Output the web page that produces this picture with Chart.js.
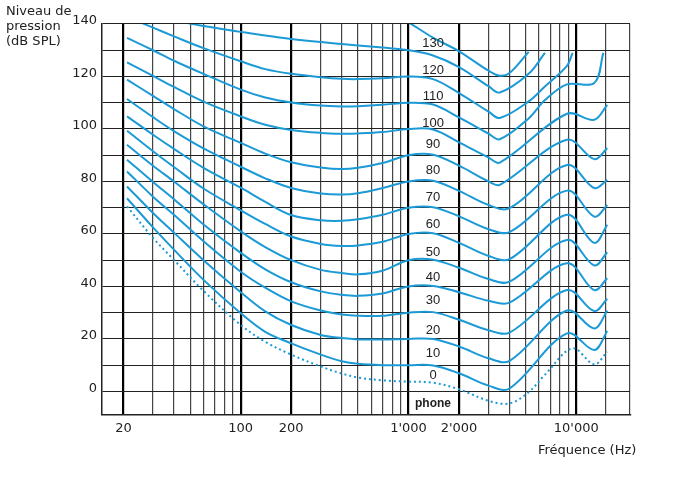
<!DOCTYPE html>
<html>
<head>
<meta charset="utf-8">
<script src="https://cdn.jsdelivr.net/npm/chart.js@4/dist/chart.umd.min.js"></script>
<style>
  html, body { margin: 0; padding: 0; background: #fff; }
</style>
</head>
<body>
<canvas id="chart" width="690" height="487"></canvas>
<script>
// fréquences communes (Hz)
const freqs = [21, 30, 40, 60, 100, 140, 200, 300, 400, 500, 700, 1000, 1400, 2000, 3000, 3500, 4000, 5200, 6500, 8800, 9500, 12800, 14500, 15300];

// niveaux (dB SPL), null = pas de point
const phon0   = [70.5, 58.5, 50.1, 38.3, 25.3, 18.9, 14, 9.5, 6.8, 5.3, 4.2, 3.7, 3.3, 0.8, -3.6, null, -4.6, -0.3, 6.3, null, 16.4, 10.3, null, 15.1];
const phon10  = [73.6, 62.5, 54, 42.5, 29.8, 22.7, 18.3, 14, 11.5, 10.5, 10, 10, 9.9, 6.9, 2.2, null, 1.1, null, null, 22.1, null, 15.8, null, 23];
const phon20  = [78.1, 68, 60.5, 50, 37.8, 30.5, 25.3, 21.5, 20.3, 19.8, 19.8, 20, 20, 17.1, 12.6, null, 11.6, null, null, 30.8, null, 24, null, 30.8];
const phon30  = [83.8, 74.2, 67.3, 57.2, 45.6, 39.5, 34.3, 30.8, 29.3, 28.8, 28.8, 30, 30.2, 27.3, 23.3, null, 22.4, null, null, 38.6, null, 30.6, null, 35.3];
const phon40  = [88.3, 79.8, 73.2, 63.6, 52.8, 46.5, 41.6, 38.1, 36.8, 36.4, 37.3, 40, 40.2, 37.8, 34.5, null, 33.8, null, null, 48.8, null, 38.6, null, 43.1];
const phon50  = [94, 86, 80, 71.3, 61, 55, 50, 46.3, 45.1, 44.6, 46, 50, 50.2, 47.1, 42.8, null, 41.8, null, null, 57.7, null, 48, null, 53];
const phon60  = [99.3, 91.5, 85.5, 77.3, 69, 63.8, 59, 56.2, 55.4, 55.6, 57, 60, 60.3, 56.6, 51.6, null, 50.4, null, null, 67.3, null, 56.6, null, 63.5];
const phon70  = [104.8, 97.8, 92.4, 85.2, 77.6, 72.2, 67.2, 65.2, 65, 65.6, 67.3, 70, 70.2, 66.7, 61.8, null, 60.7, null, null, 76.5, null, 66.6, null, 71];
const phon80  = [111.4, 104.5, 99.2, 92.6, 85.6, 81.2, 77.5, 75.4, 75, 75.5, 77.5, 80, 80.3, 76.4, 71, null, 69.8, null, null, 86.3, null, 77.5, null, 80.6];
const phon90  = [118.8, 112.6, 107.6, 101, 94.7, 90.6, 87.3, 85.3, 84.7, 85.2, 87, 90, 90.2, 86, 80, 78.7, null, null, null, 95.9, null, 88.5, null, 92.7];
const phon100 = [125.4, 120.2, 116, 110.4, 104.8, 101.6, 99.6, 98.5, 98.2, 98.3, 98.8, 100, 99.8, 94.9, 89.1, 87.2, null, null, null, 105.8, null, 103.5, null, 109.2];
const phon110 = [134.7, 130, 126, 121, 115, 112, 110.1, 108.9, 108.6, 108.7, 109.2, 110, 109.3, 104.4, 98.2, 96.1, null, 104, 111, 117, null, 117.5, 129, null];
const phon120 = [142.8, 138.6, 135.3, 130.8, 125.8, 122.8, 121, 119.7, 119.1, 119, 119.3, 120, 119, 113.7, 106.6, 104.2, null, 110.5, 116.2, 124, 129, null, null, null];
const phon130 = [null, 142.6, 141.3, 139.2, 137, 135.6, 134.3, 133.1, 132.4, 131.8, 131, 130, 128, 123.6, 116.3, 113.9, null, 121, 129, null, null, null, null, null];
const phon140 = [null, null, null, null, null, null, null, null, null, null, 146, 140.6, 134.8, 129.6, 122.2, 120.3, 121.3, 129.4, null, null, null, null, null, null];

// lignes de grille et étiquettes
const xGrid = [20, 30, 40, 50, 60, 70, 80, 90, 100, 200, 300, 400, 500, 600, 700, 800, 900,
  1000, 2000, 3000, 4000, 5000, 6000, 7000, 8000, 9000, 10000, 15000];
const xThick = [20, 100, 200, 1000, 2000, 10000];
const xLabels = { 20: '20', 100: '100', 200: '200', 1000: "1'000", 2000: "2'000", 10000: "10'000" };
const yGrid = [0, 10, 20, 30, 40, 50, 60, 70, 80, 90, 100, 110, 120, 130, 140];

const phonLabels = ['0', '10', '20', '30', '40', '50', '60', '70', '80', '90', '100', '110', '120', '130'];
const phonLabelLevels = [6.2, 14.3, 23.4, 34.5, 43.6, 52.8, 63.8, 73.8, 84.1, 94, 102, 112.3, 122.2, 132.5];
const labelFreq = 1400;

const curves = [phon0, phon10, phon20, phon30, phon40, phon50, phon60, phon70,
  phon80, phon90, phon100, phon110, phon120, phon130, phon140];

const blue = '#1b9ad6';
const xMin = 14.9;
const xMax = 20900;

Chart.defaults.font.family = '"DejaVu Sans", sans-serif';
Chart.defaults.font.size = 13;
Chart.defaults.color = '#222';

const textPlugin = {
  id: 'texts',
  afterDatasetsDraw(chart) {
    const { ctx } = chart;
    const x = chart.scales.x;
    const y = chart.scales.y;
    ctx.save();
    ctx.fillStyle = '#222';
    ctx.font = '13px "DejaVu Sans"';
    ctx.textAlign = 'left';
    ctx.textBaseline = 'alphabetic';
    ['Niveau de', 'pression', '(dB SPL)'].forEach((t, i) => ctx.fillText(t, 6, 14.5 + i * 15));
    ctx.fillText('Fréquence (Hz)', 538, 453.5);

    const lx = x.getPixelForValue(labelFreq);
    ctx.textAlign = 'center';
    ctx.textBaseline = 'middle';
    ctx.font = '13px "Liberation Sans"';
    phonLabels.forEach((t, i) => ctx.fillText(t, lx, y.getPixelForValue(phonLabelLevels[i])));
    ctx.font = 'bold 12px "Liberation Sans"';
    ctx.fillText('phone', lx, y.getPixelForValue(-4.8));
    ctx.restore();
  }
};

new Chart(document.getElementById('chart'), {
  type: 'line',
  data: {
    datasets: curves.map((vals, i) => ({
      label: i === 0 ? 'seuil' : (i * 10) + ' phone',
      data: freqs.map((f, j) => ({ x: f, y: vals[j] })).filter((p) => p.y !== null),
      borderColor: blue,
      borderWidth: 2,
      borderDash: i === 0 ? [2, 3] : [],
      pointRadius: 0,
      tension: 0.35,
      capBezierPoints: false,
      fill: false,
    })),
  },
  options: {
    responsive: false,
    animation: false,
    devicePixelRatio: 1,
    layout: { padding: { left: 0, right: 60, top: 24, bottom: 0 } },
    plugins: {
      legend: { display: false },
      tooltip: { enabled: false },
    },
    scales: {
      x: {
        type: 'logarithmic',
        min: xMin,
        max: xMax,
        afterBuildTicks: (s) => {
          s.ticks = xGrid.concat([xMax]).map((v) => ({ value: v }));
        },
        afterFit: (s) => {
          s.height = 72;
        },
        grid: {
          drawTicks: false,
          color: (c) => (xThick.includes(c.tick.value) ? '#000' : '#444'),
          lineWidth: (c) => (xThick.includes(c.tick.value) ? 2.2 : 1.2),
        },
        border: { display: true, color: '#222', width: 1.5 },
        ticks: {
          autoSkip: false,
          maxRotation: 0,
          padding: 6,
          callback: (v) => xLabels[v] ?? '',
        },
      },
      y: {
        min: -9,
        max: 140,
        afterBuildTicks: (s) => {
          s.ticks = yGrid.map((v) => ({ value: v }));
        },
        afterFit: (s) => {
          s.width = 102;
        },
        grid: { drawTicks: false, color: '#222', lineWidth: 1.1 },
        border: { display: true, color: '#222', width: 1.5 },
        ticks: {
          padding: 5,
          labelOffset: -3,
          callback: (v) => (v % 20 === 0 ? String(v) : ''),
        },
      },
    },
  },
  plugins: [textPlugin],
});
</script>
</body>
</html>
